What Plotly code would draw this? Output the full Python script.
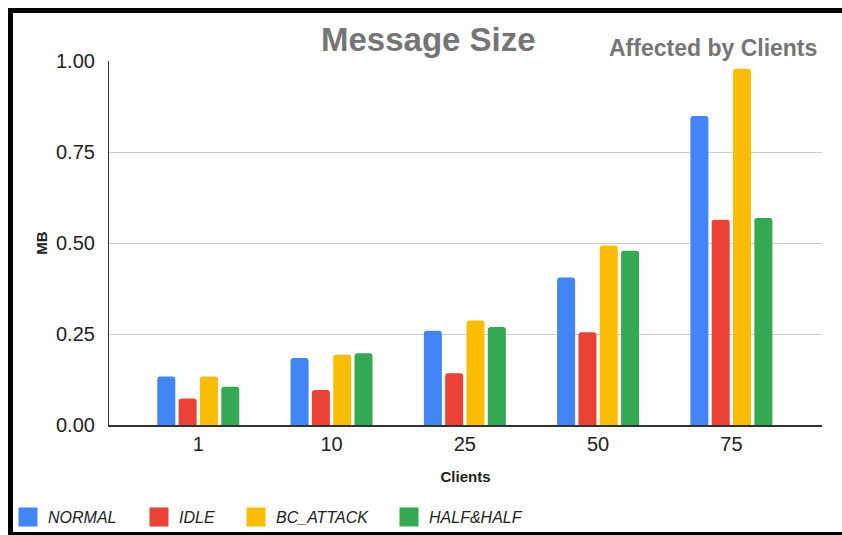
import plotly.graph_objects as go

# Message size (MB) per client count, one series per scenario
clients = ["1", "10", "25", "50", "75"]
normal = [0.133, 0.184, 0.259, 0.405, 0.849]
idle = [0.073, 0.096, 0.142, 0.255, 0.564]
bc_attack = [0.133, 0.193, 0.287, 0.493, 0.979]
half_half = [0.105, 0.197, 0.269, 0.479, 0.569]

series_names = ["NORMAL", "IDLE", "BC_ATTACK", "HALF&HALF"]
series_values = [normal, idle, bc_attack, half_half]
colors = ["#4285F4", "#EA4335", "#FBBC04", "#34A853"]

y_ticks = [0, 0.25, 0.5, 0.75, 1.0]

W, H = 842, 535
ML, MR, MT, MB = 109, 20, 61, 110
PW, PH = W - ML - MR, H - MT - MB


def px_x(px):
    return (px - ML) / PW


def px_y(py):
    return (H - MB - py) / PH


FONT = "Liberation Sans, Arial, sans-serif"

# left edge (px) of each legend entry along the bottom row
legend_left = [8, 139, 236, 389]
legend_ids = ["legend", "legend2", "legend3", "legend4"]

fig = go.Figure()
for name, vals, col, lid in zip(series_names, series_values, colors, legend_ids):
    fig.add_trace(go.Bar(
        x=clients, y=vals, name=name,
        marker=dict(color=col, cornerradius=3, line=dict(width=0)),
        showlegend=False,
    ))
    # legend swatch
    fig.add_trace(go.Scatter(
        x=[None], y=[None], mode="markers", name=name, legend=lid,
        marker=dict(symbol="square", size=16, color=col,
                    line=dict(color=col, width=3)),
    ))

legend_style = dict(
    orientation="h", xanchor="left", yanchor="middle", y=px_y(517),
    font=dict(size=16, style="italic", color="#222222", family=FONT),
    itemsizing="trace", itemwidth=30, bgcolor="rgba(0,0,0,0)",
)
legends = {lid: dict(legend_style, x=px_x(left)) for lid, left in zip(legend_ids, legend_left)}

fig.update_layout(
    width=W, height=H,
    margin=dict(l=ML, r=MR, t=MT, b=MB, autoexpand=False),
    paper_bgcolor="white", plot_bgcolor="white",
    barmode="group", bargap=0.36, bargroupgap=0.155,
    font=dict(family=FONT, color="#222222"),
    showlegend=True,
    xaxis=dict(
        type="category", range=[-0.67, 4.68],
        showgrid=False, showline=True, linecolor="#333333", linewidth=1.5,
        ticks="", tickfont=dict(size=20, color="#222222"),
        title=dict(text="Clients", font=dict(size=15, weight="bold", color="#222222"), standoff=18),
        fixedrange=True,
    ),
    yaxis=dict(
        range=[0, 1.0], tickvals=y_ticks, tickformat=".2f",
        showgrid=True, gridcolor="#cccccc", gridwidth=1,
        showline=True, linecolor="#333333", linewidth=1.2,
        zeroline=False, ticks="", ticklabelstandoff=9,
        tickfont=dict(size=20, color="#222222"),
        title=dict(text="MB", font=dict(size=15, weight="bold", color="#222222"), standoff=4),
        fixedrange=True,
    ),
    annotations=[
        dict(text="Message Size", xref="paper", yref="paper",
             x=px_x(428), y=px_y(40), xanchor="center", yanchor="middle",
             showarrow=False, font=dict(size=33, weight="bold", color="#757575", family=FONT)),
        dict(text="Affected by Clients", xref="paper", yref="paper",
             x=px_x(819), y=px_y(48), xanchor="right", yanchor="middle",
             showarrow=False, font=dict(size=23, weight="bold", color="#757575", family=FONT)),
    ],
    shapes=[
        # black frame along the top, left and bottom edges
        dict(type="line", xref="paper", yref="paper", x0=px_x(8), x1=px_x(842),
             y0=px_y(10.5), y1=px_y(10.5), line=dict(color="black", width=5)),
        dict(type="line", xref="paper", yref="paper", x0=px_x(10.5), x1=px_x(10.5),
             y0=px_y(8), y1=px_y(535), line=dict(color="black", width=5)),
        dict(type="line", xref="paper", yref="paper", x0=px_x(8), x1=px_x(842),
             y0=px_y(534), y1=px_y(534), line=dict(color="black", width=4)),
    ],
)
fig.update_layout(**legends)

fig.write_html("out.html", config=dict(displayModeBar=False))
